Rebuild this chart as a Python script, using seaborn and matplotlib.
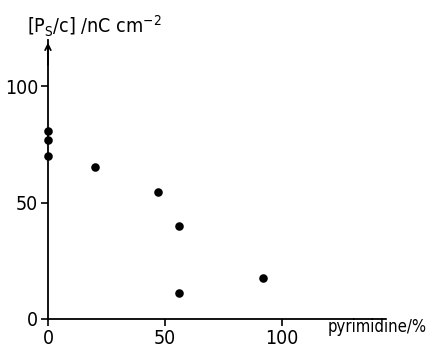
import pandas as pd
import seaborn as sns
import matplotlib.pyplot as plt

pyrimidine = [0, 0, 0, 20, 47, 56, 56, 92]
ps_c = [81, 77, 70, 65.5, 54.5, 40, 11, 17.5]
xticks = [0, 50, 100]
yticks = [0, 50, 100]

df = pd.DataFrame({"pyrimidine": pyrimidine, "ps": ps_c})

sns.set_style("ticks")
plt.rcParams['font.family'] = ['DejaVu Sans']
plt.rcParams['font.stretch'] = 'condensed'
plt.rcParams['text.color'] = 'black'
plt.rcParams['xtick.labelcolor'] = 'black'
plt.rcParams['ytick.labelcolor'] = 'black'

fig = plt.figure(figsize=(4.36, 3.49), dpi=100)
ax = fig.add_axes([0.110, 0.086, 0.773, 0.80])

sns.scatterplot(data=df, x="pyrimidine", y="ps", color="black", s=38,
                edgecolor="black", linewidth=0, ax=ax, clip_on=False, zorder=3)

ax.set_xlim(0, 144)
ax.set_ylim(0, 120)
ax.set_xticks(xticks)
ax.set_yticks(yticks)
ax.tick_params(labelsize=14, length=5, width=1.2, color="black", pad=2)
ax.set_xlabel("")
ax.set_ylabel("")
sns.despine(ax=ax)
for s in ["left", "bottom"]:
    ax.spines[s].set_linewidth(1.3)
    ax.spines[s].set_color("black")

# arrow on top of y axis
ax.annotate("", xy=(0, 1.0), xytext=(0, 0.9), xycoords="axes fraction",
            arrowprops=dict(arrowstyle="->", color="black", lw=1.3))

fig.text(0.062, 0.925, r"[P$_\mathregular{S}$/c] /nC cm$^\mathregular{-2}$",
         fontsize=14, ha="left", va="center")
fig.text(0.752, 0.063, "pyrimidine/%", fontsize=12, ha="left", va="center")

fig.savefig("out.png", dpi=100)
